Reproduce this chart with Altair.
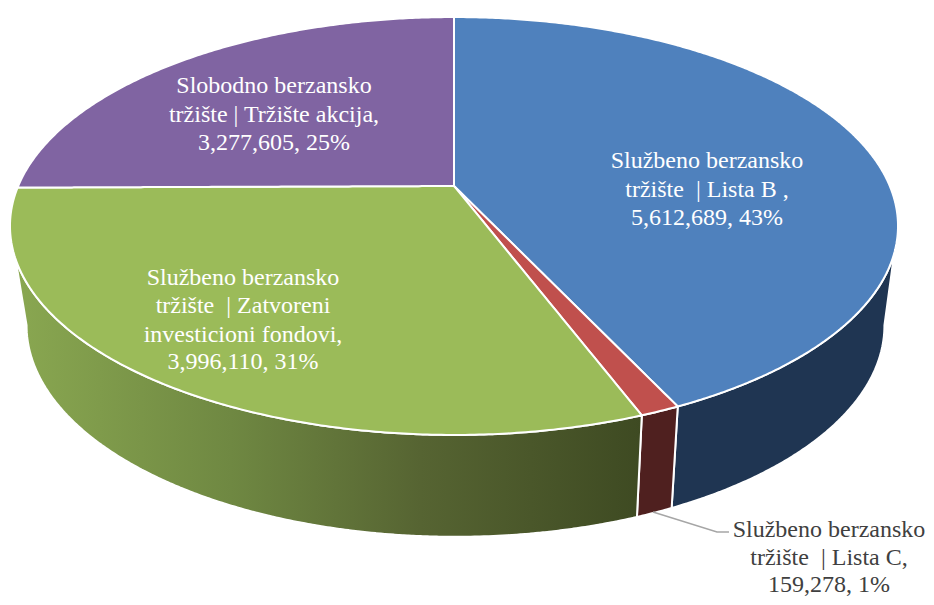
import math
import altair as alt
import pandas as pd

categories = ["Službeno berzansko tržište | Lista B", "Službeno berzansko tržište | Lista C",
              "Službeno berzansko tržište | Zatvoreni investicioni fondovi",
              "Slobodno berzansko tržište | Tržište akcija"]
values = [5612689, 159278, 3996110, 3277605]
top_colors = ["#4F81BD", "#C0504D", "#9BBB59", "#8064A2"]
side_colors = ["#1F3552", "#4F201F", None, None]
label_lines = [
    ["Službeno berzansko", "tržište\u00a0 | Lista B ,", "5,612,689, 43%"],
    ["Službeno berzansko", "tržište\u00a0 | Lista C,", "159,278, 1%"],
    ["Službeno berzansko", "tržište\u00a0 | Zatvoreni", "investicioni fondovi,", "3,996,110, 31%"],
    ["Slobodno berzansko", "tržište | Tržište akcija,", "3,277,605, 25%"],
]
label_pos = [(707, [161, 190, 218]), (829, [530, 557.5, 584.5]), (243, [278, 306, 335, 362]), (274, [86, 115, 143])]
label_colors = ["white", "#404040", "white", "white"]

# perspective view of the pie: screen position of a point on the rim
K = 0.1914
TOP = dict(cx=454.0, a=435.8, b=201.3, c=186.0)
BOT = dict(cx=455.5, a=421.0, b=203.6, c=285.0)


def rim(deg, d):
    t = math.radians(deg)
    u, v = math.sin(t), -math.cos(t)
    w = 1 - K * v
    return d["cx"] + d["a"] * u / w, d["c"] + d["b"] * v / w


def arc_degrees(a0, a1):
    n = max(2, int(abs(a1 - a0) * 2))
    return [a0 + (a1 - a0) * i / n for i in range(n + 1)]


def span_table(poly):
    """Turn an x-monotone outline into rows of x, y, y2 for an area mark."""
    xs = sorted({round(p[0], 2) for p in poly})
    rows = []
    m = len(poly)
    for x in xs:
        ys = []
        for i in range(m):
            (x0, y0), (x1, y1) = poly[i], poly[(i + 1) % m]
            if abs(x1 - x0) < 1e-6:
                if abs(x - x0) < 0.01:
                    ys += [y0, y1]
            elif min(x0, x1) - 0.01 <= x <= max(x0, x1) + 0.01:
                f = min(1.0, max(0.0, (x - x0) / (x1 - x0)))
                ys.append(y0 + f * (y1 - y0))
        if ys:
            rows.append({"x": x, "y": min(ys), "y2": max(ys)})
    return pd.DataFrame(rows)


total = sum(values)
edges = [0.0]
for v in values:
    edges.append(edges[-1] + v / total * 360)

X = alt.X("x:Q", scale=alt.Scale(domain=[8, 926], nice=False, zero=False), axis=None)
Y = alt.Y("y:Q", scale=alt.Scale(domain=[597, 8], nice=False, zero=False), axis=None)
Y2 = alt.Y2("y2:Q")

green_side = alt.Gradient(
    gradient="linear", x1=0, y1=0, x2=1, y2=0,
    stops=[alt.GradientStop(offset=0, color="#8AA851"),
           alt.GradientStop(offset=0.35, color="#6F8842"),
           alt.GradientStop(offset=0.65, color="#566432"),
           alt.GradientStop(offset=1, color="#3E4A22")],
)

layers = []
# outer wall, visible between the two silhouette angles
SIL0, SIL1 = 101.0, 259.0
for i in range(3):
    a0, a1 = max(edges[i], SIL0), min(edges[i + 1], SIL1)
    degs = arc_degrees(a0, a1)
    poly = [rim(d, TOP) for d in degs] + [rim(d, BOT) for d in reversed(degs)]
    fill = side_colors[i] if side_colors[i] else green_side
    layers.append(alt.Chart(span_table(poly)).mark_area(
        orient="vertical", fill=fill, stroke="white", strokeWidth=2, strokeJoin="round"
    ).encode(x=X, y=Y, y2=Y2))

# top surface
for i in range(4):
    poly = [(TOP["cx"], TOP["c"])] + [rim(d, TOP) for d in arc_degrees(edges[i], edges[i + 1])]
    layers.append(alt.Chart(span_table(poly)).mark_area(
        orient="vertical", fill=top_colors[i], stroke="white", strokeWidth=2, strokeJoin="round"
    ).encode(x=X, y=Y, y2=Y2))

# leader line
leader = pd.DataFrame({"x": [653, 717, 729], "y": [512, 532, 532]})
layers.append(alt.Chart(leader).mark_line(color="#A6A6A6", strokeWidth=1.5).encode(x=X, y=Y))

# labels
for lines, (lx, lys), col in zip(label_lines, label_pos, label_colors):
    df = pd.DataFrame({"x": [lx] * len(lines), "y": lys, "t": lines})
    layers.append(alt.Chart(df).mark_text(
        font="Liberation Serif", fontSize=24, color=col, align="center", baseline="middle"
    ).encode(x=X, y=Y, text="t:N"))

chart = alt.layer(*layers).properties(
    width=918, height=589, padding=0,
    autosize=alt.AutoSizeParams(type="none"),
    background="white",
).configure_view(stroke=None)

chart.save("out.html", embed_options={"renderer": "svg", "actions": False})
